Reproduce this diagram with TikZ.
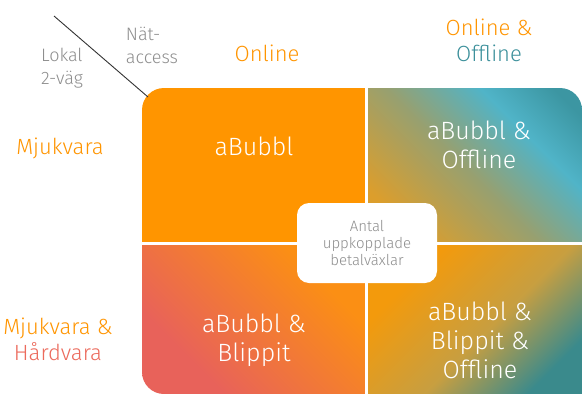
\documentclass[tikz,border=0pt]{standalone}
\usepackage{fontspec}
\setmainfont{Fira Sans}[UprightFont={* Light}]
\usetikzlibrary{calc}
\definecolor{corange}{HTML}{FF9500}
\definecolor{cteal}{HTML}{3A8F9A}
\definecolor{ccoral}{HTML}{EC6A5C}
\definecolor{cgray}{HTML}{8E8E8E}
\definecolor{cgold}{HTML}{DC9E2C}
\definecolor{colive}{HTML}{97A070}
\definecolor{ccyan}{HTML}{50B4C8}
\definecolor{cdteal}{HTML}{3C96A2}
\definecolor{cbrorange}{HTML}{F39A0C}
\definecolor{cbrteal}{HTML}{3A8A8C}
\definecolor{cblorange}{HTML}{FB8F14}
\definecolor{cblcoral}{HTML}{E8625A}
\pgfdeclarehorizontalshading{trshade}{100bp}{color(0bp)=(cgold); color(25bp)=(cgold); color(48bp)=(colive); color(66bp)=(ccyan); color(80bp)=(cdteal); color(100bp)=(cdteal)}
\pgfdeclarehorizontalshading{brshade}{100bp}{color(0bp)=(cbrorange); color(30bp)=(cbrorange); color(55bp)=(cgold!70!colive); color(75bp)=(cbrteal); color(100bp)=(cbrteal)}
\pgfdeclarehorizontalshading{blshade}{100bp}{color(0bp)=(cblcoral); color(30bp)=(cblcoral); color(70bp)=(cblorange); color(100bp)=(cblorange)}
\tikzset{
  quadtext/.style={text=white, font=\fontsize{25}{29}\selectfont, align=center},
  axislabel/.style={font=\fontsize{22}{26}\selectfont, align=center},
  graylabel/.style={text=cgray, font=\fontsize{18}{23}\selectfont, align=left},
  centerbox/.style={fill=white, rounded corners=12pt, minimum width=140pt, minimum height=80pt, text=cgray, font=\fontsize{15}{17}\selectfont, align=center, inner sep=0pt}
}
\begin{document}
\begin{tikzpicture}[x=1pt,y=-1pt]
\useasboundingbox (0,0) rectangle (582,394);
\fill[white] (0,0) rectangle (582,394);
\begin{scope}
  \clip[rounded corners=22pt] (620,394) -- (142,394) -- (142,88) -- (582,88) -- (582,430) -- (620,430) -- cycle;
  \fill[corange] (142,88) rectangle (366,243);
  \shade[shading=trshade, shading angle=45] (366,88) rectangle (582,243);
  \shade[shading=blshade, shading angle=45] (142,243) rectangle (366,394);
  \shade[shading=brshade, shading angle=-45] (366,243) rectangle (582,394);
  \draw[white, line width=3pt] (366,80) -- (366,400);
  \draw[white, line width=3pt] (130,243) -- (600,243);
\end{scope}
\coordinate (lstart) at (54,16);
\coordinate (lend) at (148,97);
\draw[black!80, line width=0.9pt] (lstart) -- (lend);
\node[graylabel] (lokal) at (62,68) {Lokal\\2-väg};
\node[graylabel] (nat) at (152,45) {Nät-\\access};
\node[axislabel, text=corange] (online) at (267,53) {Online};
\node[axislabel] (onoff) at (489,40) {\textcolor{corange}{Online \&}\\\textcolor{cteal}{Offline}};
\node[axislabel, text=corange] (mjuk) at (60,148) {Mjukvara};
\node[axislabel] (mjukhard) at (58,339) {\textcolor{corange}{Mjukvara \&}\\\textcolor{ccoral}{Hårdvara}};
\node[quadtext] (q1) at (254,146) {aBubbl};
\node[quadtext] (q2) at (479,145) {aBubbl \&\\Offline};
\node[quadtext] (q3) at (254,340) {aBubbl \&\\Blippit};
\node[quadtext] (q4) at (480,340) {aBubbl \&\\Blippit \&\\Offline};
\node[centerbox] (antal) at (367,243) {Antal\\uppkopplade\\betalväxlar};
\end{tikzpicture}
\end{document}
